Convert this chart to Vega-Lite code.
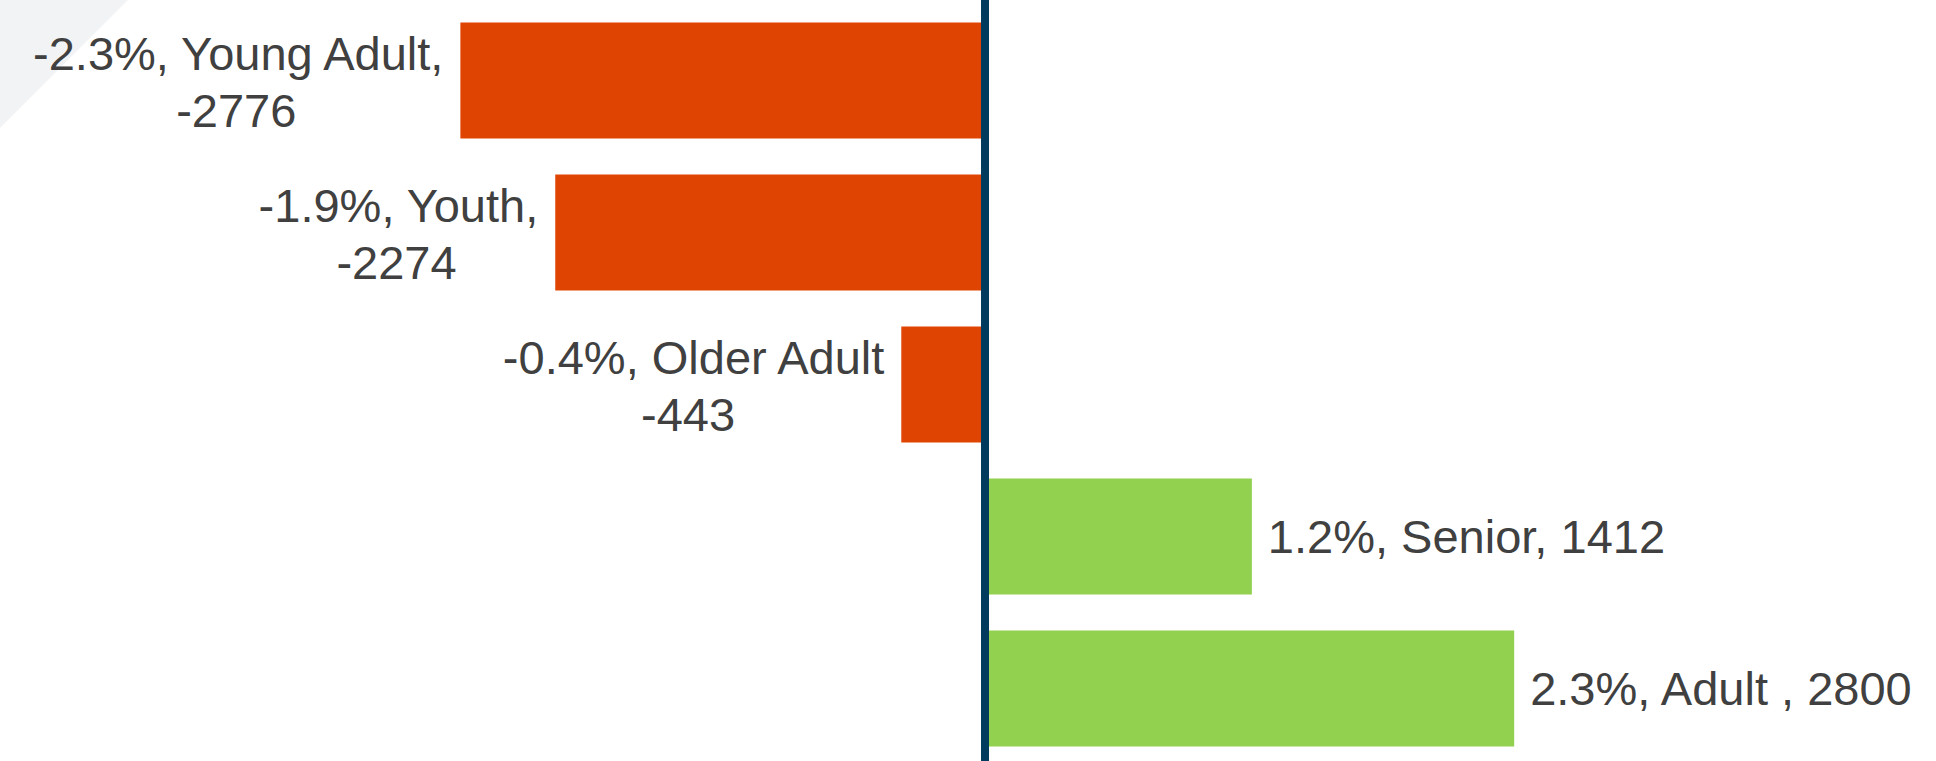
{
  "$schema": "https://vega.github.io/schema/vega-lite/v6.json",
  "width": 1936,
  "height": 761,
  "padding": 0,
  "autosize": {"type": "none"},
  "background": "#ffffff",
  "config": {"view": {"stroke": null}},
  "data": {
    "values": [
      {"group": "Young Adult", "change": -2776, "pct": -2.3, "label1": "-2.3%, Young Adult,", "label2": "-2776"},
      {"group": "Youth", "change": -2274, "pct": -1.9, "label1": "-1.9%, Youth,", "label2": "-2274"},
      {"group": "Older Adult", "change": -443, "pct": -0.4, "label1": "-0.4%, Older Adult", "label2": "-443"},
      {"group": "Senior", "change": 1412, "pct": 1.2, "label1": "1.2%, Senior, 1412", "label2": ""},
      {"group": "Adult", "change": 2800, "pct": 2.3, "label1": "2.3%, Adult , 2800", "label2": ""}
    ]
  },
  "layer": [
    {
      "data": {"values": [{"bg": 1}]},
      "mark": {
        "type": "rect",
        "fill": {
          "gradient": "linear",
          "x1": 0, "y1": 0, "x2": 1, "y2": 0.393,
          "stops": [
            {"offset": 0, "color": "#f2f3f5"},
            {"offset": 0.057, "color": "#f2f3f5"},
            {"offset": 0.0575, "color": "#ffffff"},
            {"offset": 1, "color": "#ffffff"}
          ]
        }
      },
      "encoding": {}
    },
    {
      "mark": {"type": "bar", "yOffset": 4},
      "encoding": {
        "x": {"field": "change", "type": "quantitative", "scale": {"domain": [-5212, 5032], "nice": false, "zero": false}, "axis": null},
        "y": {"field": "group", "type": "nominal", "sort": ["Young Adult", "Youth", "Older Adult", "Senior", "Adult"], "scale": {"paddingInner": 0.237, "paddingOuter": 0.122}, "axis": null},
        "color": {"condition": {"test": "datum.change < 0", "value": "#E04403"}, "value": "#92D050"}
      }
    },
    {
      "data": {"values": [{"zero": 0}]},
      "mark": {"type": "rule", "color": "#003A5D", "strokeWidth": 8},
      "encoding": {
        "x": {"field": "zero", "type": "quantitative", "scale": {"domain": [-5212, 5032], "nice": false, "zero": false}, "axis": null}
      }
    },
    {
      "transform": [{"filter": "datum.change > 0"}],
      "mark": {"type": "text", "align": "left", "baseline": "middle", "dx": 16, "dy": 7, "font": "Liberation Sans", "fontSize": 47, "color": "#404040"},
      "encoding": {
        "x": {"field": "change", "type": "quantitative", "scale": {"domain": [-5212, 5032], "nice": false, "zero": false}, "axis": null},
        "y": {"field": "group", "type": "nominal", "sort": ["Young Adult", "Youth", "Older Adult", "Senior", "Adult"], "axis": null},
        "text": {"field": "label1"}
      }
    },
    {
      "transform": [{"filter": "datum.change < 0"}],
      "mark": {"type": "text", "align": "right", "baseline": "middle", "dx": -17, "dy": -21, "font": "Liberation Sans", "fontSize": 47, "color": "#404040"},
      "encoding": {
        "x": {"field": "change", "type": "quantitative", "scale": {"domain": [-5212, 5032], "nice": false, "zero": false}, "axis": null},
        "y": {"field": "group", "type": "nominal", "sort": ["Young Adult", "Youth", "Older Adult", "Senior", "Adult"], "axis": null},
        "text": {"field": "label1"}
      }
    },
    {
      "transform": [{"filter": "datum.change < 0"}],
      "mark": {"type": "text", "align": "center", "baseline": "middle", "dx": {"expr": "-17 - length(datum.label1) * 10.9"}, "dy": 36, "font": "Liberation Sans", "fontSize": 47, "color": "#404040"},
      "encoding": {
        "x": {"field": "change", "type": "quantitative", "scale": {"domain": [-5212, 5032], "nice": false, "zero": false}, "axis": null},
        "y": {"field": "group", "type": "nominal", "sort": ["Young Adult", "Youth", "Older Adult", "Senior", "Adult"], "axis": null},
        "text": {"field": "label2"}
      }
    }
  ]
}
